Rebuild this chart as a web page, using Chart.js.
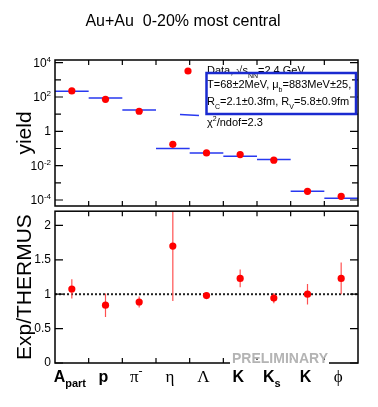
<!DOCTYPE html>
<html lang="en">
<head>
<meta charset="UTF-8">
<title>Au+Au 0-20% yields</title>
<style>
  body { margin: 0; background: #fff; }
  #wrap { position: relative; width: 378px; height: 407px; background: #fff; }
  canvas { position: absolute; left: 0; }
</style>
</head>
<body>
<div id="wrap">
  <canvas id="yieldChart" width="378" height="210" style="top:0px"></canvas>
  <canvas id="ratioChart" width="378" height="207" style="top:200px"></canvas>
</div>
<script src="https://cdn.jsdelivr.net/npm/chart.js@4.4.0/dist/chart.umd.min.js"></script>
<script>
// data
const particles = ['A_{part}', 'p', 'π^{-}', 'η', 'Λ', 'K', 'K_{s}', 'K', 'ϕ'];
const yieldData = [226, 73, 14.8, 0.176, 0.055, 0.0444, 0.021, 3.2e-4, 1.63e-4];
const thermusYield = [213, 87.6, 17.6, 0.099, 0.0555, 0.0356, 0.0228, 3.2e-4, 1.25e-4];
const ratio = [1.076, 0.84, 0.887, 1.70, 0.98, 1.23, 0.944, 1.0, 1.23];
const ratioErr = [0.14, 0.17, 0.08, 0.8, 0.04, 0.13, 0.075, 0.15, 0.23];
const yieldTickExp = [4, 3, 2, 1, 0, -1, -2, -3, -4];
const ratioTicks = [0, 0.5, 1, 1.5, 2];
const legendLines = [
  'Data, √s_{NN}=2.4 GeV',
  'T=68±2MeV, μ_{b}=883MeV±25,',
  'R_{C}=2.1±0.3fm, R_{V}=5.8±0.9fm',
  'χ^{2}/ndof=2.3'
];

const SANS = '"Liberation Sans", Arial, Helvetica, sans-serif';
const SERIF = '"Liberation Serif", "DejaVu Serif", serif';
const RED = '#ff0000';
const BLUE = '#2838f0';

// tiny TLatex-like helper: x_{sub}, x^{sup}
function parseLatex(str) {
  const out = [];
  let buf = '', i = 0;
  while (i < str.length) {
    const c = str[i];
    if ((c === '_' || c === '^') && str[i + 1] === '{') {
      if (buf) { out.push({ t: buf, k: 'n' }); buf = ''; }
      const end = str.indexOf('}', i);
      out.push({ t: str.slice(i + 2, end), k: c === '_' ? 'sub' : 'sup' });
      i = end + 1;
    } else { buf += c; i++; }
  }
  if (buf) out.push({ t: buf, k: 'n' });
  return out;
}

function drawLatex(ctx, str, x, y, size, family, weight, align) {
  const parts = parseLatex(str);
  const fontFor = k => (weight || '') + ' ' + (k === 'n' ? size : Math.round(size * 0.68)) + 'px ' + family;
  let w = 0;
  parts.forEach(p => { ctx.font = fontFor(p.k); p.w = ctx.measureText(p.t).width; w += p.w; });
  let cx = align === 'center' ? x - w / 2 : (align === 'right' ? x - w : x);
  ctx.textAlign = 'left';
  ctx.textBaseline = 'alphabetic';
  parts.forEach(p => {
    ctx.font = fontFor(p.k);
    let dy = 0;
    if (p.k === 'sub') dy = size * 0.32;
    if (p.k === 'sup') dy = -size * 0.42;
    ctx.fillText(p.t, cx, y + dy);
    cx += p.w;
  });
}

// ROOT style frame with inward ticks
const framePlugin = {
  id: 'frame',
  afterDraw(chart) {
    const ctx = chart.ctx, a = chart.chartArea;
    const xs = chart.scales.x, ys = chart.scales.y;
    ctx.save();
    ctx.strokeStyle = '#000';
    ctx.lineWidth = 1.5;
    ctx.strokeRect(a.left, a.top, a.right - a.left, a.bottom - a.top);
    ctx.lineWidth = 1.2;
    ctx.beginPath();
    ys.ticks.forEach(t => {
      const py = ys.getPixelForValue(t.value);
      const len = t.major === false ? 6 : 8;
      ctx.moveTo(a.left, py); ctx.lineTo(a.left + len, py);
      ctx.moveTo(a.right, py); ctx.lineTo(a.right - len, py);
    });
    for (let v = 1; v < particles.length; v++) {
      const px = xs.getPixelForValue(v);
      ctx.moveTo(px, a.bottom); ctx.lineTo(px, a.bottom - 5);
      ctx.moveTo(px, a.top); ctx.lineTo(px, a.top + 5);
    }
    ctx.stroke();
    ctx.restore();
  }
};

function segments(vals) {
  const pts = [];
  vals.forEach((v, i) => {
    pts.push({ x: i, y: v }, { x: i + 1, y: v }, { x: i + 1, y: null });
  });
  return pts;
}
function centers(vals) {
  return vals.map((v, i) => ({ x: i + 0.5, y: v }));
}

// ---------- top: yields ----------
const yieldPlugin = {
  id: 'yieldDecor',
  afterDraw(chart) {
    const ctx = chart.ctx, ys = chart.scales.y;
    ctx.save();
    ctx.fillStyle = '#000';
    // title
    ctx.font = '16px ' + SANS;
    ctx.textAlign = 'center';
    ctx.textBaseline = 'alphabetic';
    ctx.fillText('Au+Au  0-20% most central', 183, 26);
    // log tick labels
    yieldTickExp.filter(e => e % 2 === 0).forEach(e => {
      const py = ys.getPixelForValue(Math.pow(10, e));
      const txt = e === 0 ? '1' : '10^{' + e + '}';
      drawLatex(ctx, txt, 51, py + 4, 12, SANS, '', 'right');
    });
    // legend
    ctx.fillStyle = RED;
    ctx.beginPath();
    ctx.arc(188, 71, 3.6, 0, Math.PI * 2);
    ctx.fill();
    ctx.strokeStyle = BLUE;
    ctx.lineWidth = 1.5;
    ctx.beginPath();
    ctx.moveTo(180, 114.5); ctx.lineTo(199, 115.5);
    ctx.stroke();
    ctx.fillStyle = '#000';
    const ys0 = [74, 88, 105, 126];
    legendLines.forEach((l, i) => drawLatex(ctx, l, 207, ys0[i], 11, SANS, '', 'left'));
    // sqrt bar
    ctx.strokeStyle = '#000';
    ctx.lineWidth = 0.8;
    ctx.strokeStyle = '#1a2ad0';
    ctx.lineWidth = 2.5;
    ctx.strokeRect(206.5, 73, 149.5, 41);
    ctx.restore();
  }
};

new Chart(document.getElementById('yieldChart'), {
  type: 'scatter',
  data: {
    datasets: [
      {
        label: 'Data',
        data: centers(yieldData),
        pointRadius: 3.6,
        pointBackgroundColor: RED,
        pointBorderWidth: 0,
        order: 0
      },
      {
        type: 'line',
        label: 'THERMUS',
        data: segments(thermusYield),
        borderColor: BLUE,
        borderWidth: 1.5,
        pointRadius: 0,
        spanGaps: false,
        order: 1
      }
    ]
  },
  options: {
    responsive: false,
    animation: false,
    devicePixelRatio: 1,
    layout: { padding: { top: 60, right: 20, bottom: 3, left: 0 } },
    plugins: { legend: { display: false }, tooltip: { enabled: false } },
    scales: {
      x: { type: 'linear', min: 0, max: particles.length, display: false },
      y: {
        type: 'logarithmic',
        min: Math.pow(10, -4.35),
        max: Math.pow(10, 4.155),
        afterFit: s => { s.width = 55; },
        afterBuildTicks: s => {
          s.ticks = yieldTickExp.map(e => ({ value: Math.pow(10, e), major: e % 2 === 0 }));
        },
        ticks: { display: false },
        grid: { display: false, drawTicks: false },
        border: { display: false },
        title: {
          display: true,
          text: 'yield',
          color: '#000',
          font: { family: SANS, size: 21 },
          padding: { top: 13, bottom: 0 }
        }
      }
    }
  },
  plugins: [framePlugin, yieldPlugin]
});

// ---------- bottom: ratio ----------
const ratioPlugin = {
  id: 'ratioDecor',
  afterDraw(chart) {
    const ctx = chart.ctx, xs = chart.scales.x, a = chart.chartArea;
    ctx.save();
    ctx.fillStyle = '#000';
    particles.forEach((lab, i) => {
      const px = xs.getPixelForValue(i + 0.5);
      const greek = /^[\u0370-\u03ff]/.test(lab);
      if (greek) drawLatex(ctx, lab, px - 3, a.bottom + 19, 17, SERIF, '', 'center');
      else drawLatex(ctx, lab, px - 2, a.bottom + 19, 16, SANS, 'bold', 'center');
    });
    // preliminary stamp over the axis
    ctx.fillStyle = '#fff';
    ctx.fillRect(230, a.bottom - 3, 99, 6);
    ctx.fillStyle = '#b4b4b4';
    ctx.font = 'bold 14px ' + SANS;
    ctx.textAlign = 'center';
    ctx.textBaseline = 'middle';
    ctx.fillText('PRELIMINARY', 280, a.bottom - 4);
    ctx.restore();
  }
};

const errBars = [];
ratio.forEach((v, i) => {
  errBars.push({ x: i + 0.5, y: v - ratioErr[i] }, { x: i + 0.5, y: v + ratioErr[i] }, { x: i + 0.5, y: null });
});

new Chart(document.getElementById('ratioChart'), {
  type: 'scatter',
  data: {
    datasets: [
      {
        label: 'Exp/THERMUS',
        data: centers(ratio),
        pointRadius: 3.6,
        pointBackgroundColor: RED,
        pointBorderWidth: 0,
        order: 0
      },
      {
        type: 'line',
        label: 'errors',
        data: errBars,
        borderColor: '#ff5050',
        borderWidth: 1.2,
        pointRadius: 0,
        spanGaps: false,
        order: 1
      },
      {
        type: 'line',
        label: 'unity',
        data: [{ x: 0, y: 1 }, { x: particles.length, y: 1 }],
        borderColor: '#222',
        borderWidth: 2,
        borderDash: [2, 2],
        pointRadius: 0,
        order: 2
      }
    ]
  },
  options: {
    responsive: false,
    animation: false,
    devicePixelRatio: 1,
    layout: { padding: { top: 7, right: 20, bottom: 44, left: 0 } },
    plugins: { legend: { display: false }, tooltip: { enabled: false } },
    scales: {
      x: { type: 'linear', min: 0, max: particles.length, display: false },
      y: {
        type: 'linear',
        min: 0,
        max: 2.207,
        afterFit: s => { s.width = 55; },
        afterBuildTicks: s => { s.ticks = ratioTicks.map(v => ({ value: v })); },
        ticks: {
          color: '#000',
          padding: 4,
          font: { family: SANS, size: 12 },
          callback: v => String(v)
        },
        grid: { display: false, drawTicks: false },
        border: { display: false },
        title: {
          display: true,
          text: 'Exp/THERMUS',
          color: '#000',
          font: { family: SANS, size: 21 },
          padding: { top: 13, bottom: 0 }
        }
      }
    }
  },
  plugins: [framePlugin, ratioPlugin]
});
</script>
</body>
</html>
